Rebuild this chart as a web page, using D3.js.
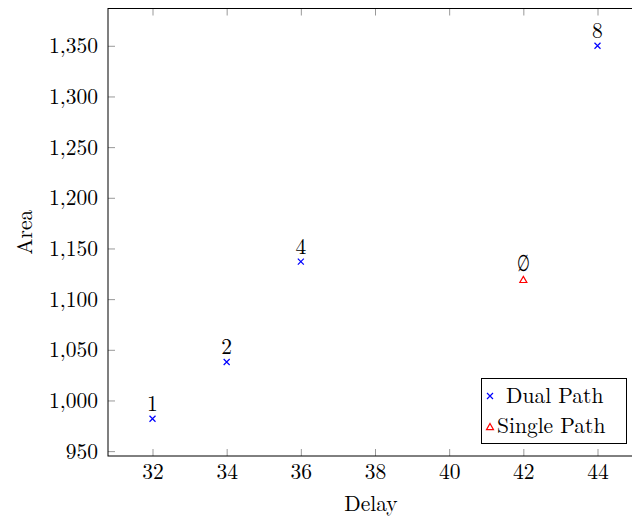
<!DOCTYPE html>
<html>
<head>
<meta charset="utf-8">
<script src="https://cdn.jsdelivr.net/npm/d3@7"></script>
<style>
  html, body { margin: 0; padding: 0; background: #fff; }
  svg text { font-family: "Latin Modern Roman", "Liberation Serif", serif; fill: #000; }
</style>
</head>
<body>
<svg id="chart" width="632" height="522"></svg>
<script>
// Delay vs. area for dual-path and single-path designs
const dualDelay = [32, 34, 36, 44];
const dualArea = [982, 1038, 1137, 1350];
const dualLabels = ["1", "2", "4", "8"];
const singleDelay = [42];
const singleArea = [1119];
const singleLabels = ["\u2205"];
const xTicks = [32, 34, 36, 38, 40, 42, 44];
const yTicks = [950, 1000, 1050, 1100, 1150, 1200, 1250, 1300, 1350];
const seriesNames = ["Dual Path", "Single Path"];

const FONT = '"Latin Modern Roman", "Liberation Serif", serif';
const FS = 21.5;

const svg = d3.select("#chart");
const plotLeft = 108, plotRight = 642, plotTop = 8.5, plotBottom = 456;

// pgfplots-style 10% enlargement of the data range
const allX = dualDelay.concat(singleDelay), allY = dualArea.concat(singleArea);
const xMin = d3.min(allX), xMax = d3.max(allX);
const yMin = d3.min(allY), yMax = d3.max(allY);
const xPad = (xMax - xMin) * 0.1, yPad = (yMax - yMin) * 0.1;

const x = d3.scaleLinear().domain([xMin - xPad, xMax + xPad]).range([plotLeft, plotRight]);
const y = d3.scaleLinear().domain([yMin - yPad, yMax + yPad]).range([plotBottom, plotTop]);

const fmt = d3.format(",");
const tickLen = 7;

// inner ticks on bottom, top and left
const gx = svg.append("g").attr("transform", `translate(0,${plotBottom})`)
  .call(d3.axisBottom(x).tickValues(xTicks).tickSize(-tickLen).tickPadding(8).tickFormat(d3.format("d")));
const gxTop = svg.append("g").attr("transform", `translate(0,${plotTop})`)
  .call(d3.axisTop(x).tickValues(xTicks).tickSize(-tickLen).tickFormat(""));
const gy = svg.append("g").attr("transform", `translate(${plotLeft},0)`)
  .call(d3.axisLeft(y).tickValues(yTicks).tickSize(-tickLen).tickPadding(10).tickFormat(fmt));

[gx, gxTop, gy].forEach(g => {
  g.attr("font-family", FONT).attr("font-size", FS);
  g.select(".domain").remove();
  g.selectAll(".tick line").attr("stroke", "#999").attr("stroke-width", 1);
});
gx.selectAll(".tick text").attr("dy", "0.71em");

// frame
svg.append("rect")
  .attr("x", plotLeft).attr("y", plotTop)
  .attr("width", plotRight - plotLeft).attr("height", plotBottom - plotTop)
  .attr("fill", "none").attr("stroke", "#000").attr("stroke-width", 1);

// axis titles
svg.append("text").attr("x", 371).attr("y", 511)
  .attr("text-anchor", "middle").attr("font-size", FS).text("Delay");
svg.append("text")
  .attr("transform", `translate(32,${(plotTop + plotBottom) / 2}) rotate(-90)`)
  .attr("text-anchor", "middle").attr("font-size", FS).text("Area");

// markers
const cross = (g, cx, cy, s) => {
  g.append("path")
    .attr("d", `M${cx - s},${cy - s}L${cx + s},${cy + s}M${cx - s},${cy + s}L${cx + s},${cy - s}`)
    .attr("stroke", "#0000ff").attr("stroke-width", 1.2).attr("fill", "none");
};
const tri = (g, cx, cy, s) => {
  g.append("path")
    .attr("d", `M${cx},${cy - s}L${cx + s},${cy + s * 0.75}L${cx - s},${cy + s * 0.75}Z`)
    .attr("stroke", "#ff0000").attr("stroke-width", 1.2).attr("fill", "none");
};

const marks = svg.append("g");
dualDelay.forEach((d, i) => cross(marks, x(d), y(dualArea[i]), 3));
singleDelay.forEach((d, i) => tri(marks, x(d), y(singleArea[i]), 3.5));

// point labels
const labels = svg.append("g").attr("font-size", FS).attr("text-anchor", "middle");
dualDelay.forEach((d, i) => labels.append("text").attr("x", x(d)).attr("y", y(dualArea[i]) - 8).text(dualLabels[i]));
// empty-set label: narrowed to a slashed-zero shape
singleDelay.forEach((d, i) => labels.append("text")
  .attr("transform", `translate(${x(d)},${y(singleArea[i]) - 9}) scale(0.68,1.06)`)
  .text(singleLabels[i]));

// legend
const lg = svg.append("g");
lg.append("rect").attr("x", 481.5).attr("y", 378.5).attr("width", 145).attr("height", 65)
  .attr("fill", "#fff").attr("stroke", "#000").attr("stroke-width", 1);
cross(lg, 490, 396, 3);
tri(lg, 490, 427, 3.5);
lg.append("text").attr("x", 506).attr("y", 403).attr("font-size", FS).text(seriesNames[0]);
lg.append("text").attr("x", 497).attr("y", 433).attr("font-size", FS).text(seriesNames[1]);
</script>
</body>
</html>
